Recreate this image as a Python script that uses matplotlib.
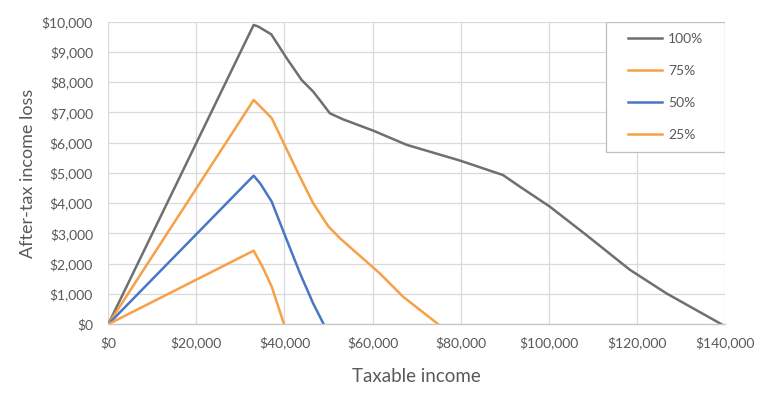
import matplotlib.pyplot as plt
from matplotlib.patches import Rectangle
from matplotlib.ticker import FuncFormatter

# values (taxable income, after-tax income loss)
x_100 = [0, 33000, 34000, 37000, 40500, 43900, 46500, 48000, 50300, 53300,
         60100, 67700, 79800, 89600, 93400, 100200, 108500, 118400, 126700, 139200]
y_100 = [0, 9890, 9840, 9580, 8790, 8070, 7690, 7410, 6970, 6770,
         6400, 5930, 5410, 4930, 4550, 3890, 2950, 1800, 1020, 0]

x_75 = [0, 33000, 34800, 37100, 43100, 46500, 50000, 52600, 61600, 66900, 74900]
y_75 = [0, 7410, 7150, 6810, 4990, 4000, 3225, 2840, 1685, 912, 0]

x_50 = [0, 33000, 34500, 37100, 40500, 43500, 46500, 48900]
y_50 = [0, 4910, 4650, 4050, 2790, 1690, 690, 0]

x_25 = [0, 33000, 35000, 37100, 39900]
y_25 = [0, 2430, 1900, 1240, 0]

labels = ["100%", "75%", "50%", "25%"]
colors = ["#6f6f6f", "#F7A045", "#4A76C6", "#F7A045"]

text_col = "#595959"
plt.rcParams["font.family"] = ["Lato", "DejaVu Sans"]

fig = plt.figure(figsize=(7.68, 3.93), dpi=100)
ax = fig.add_axes([0.141, 0.175, 0.803, 0.770])

series = [(x_100, y_100), (x_75, y_75), (x_50, y_50), (x_25, y_25)]
for (xs, ys), lab, c in zip(series, labels, colors):
    ax.plot(xs, ys, color=c, linewidth=1.8, label=lab, solid_joinstyle="round")

ax.set_xlim(0, 140000)
ax.set_ylim(0, 10000)
ax.set_xticks(range(0, 140001, 20000))
ax.set_yticks(range(0, 10001, 1000))
money = FuncFormatter(lambda v, p: "${:,.0f}".format(v))
ax.xaxis.set_major_formatter(money)
ax.yaxis.set_major_formatter(money)

ax.grid(True, color="#d9d9d9", linewidth=0.9)
ax.set_axisbelow(True)
for s in ["top", "right", "left"]:
    ax.spines[s].set_visible(False)
ax.spines["bottom"].set_color("#c8c8c8")
ax.spines["bottom"].set_linewidth(1.0)

ax.tick_params(axis="both", length=0, labelsize=10, colors=text_col)
ax.tick_params(axis="y", pad=11)
ax.tick_params(axis="x", pad=9)

ax.set_xlabel("Taxable income", fontsize=13.5, color=text_col, labelpad=13)
ax.set_ylabel("After-tax income loss", fontsize=13, color=text_col, labelpad=4)

# legend frame drawn separately so the entries sit centred in a wider box
box = Rectangle((0.807, 0.569), 0.193, 0.431, transform=ax.transAxes,
                facecolor="white", edgecolor="#bfbfbf", linewidth=0.9, zorder=4)
ax.add_patch(box)
leg = ax.legend(loc="center", bbox_to_anchor=(0.9035, 0.7845), borderaxespad=0,
                frameon=False, fontsize=10, handlelength=2.5,
                handletextpad=0.4, labelspacing=1.45, borderpad=0)
leg.set_zorder(5)
for t in leg.get_texts():
    t.set_color(text_col)

fig.savefig("out.png", dpi=100)
